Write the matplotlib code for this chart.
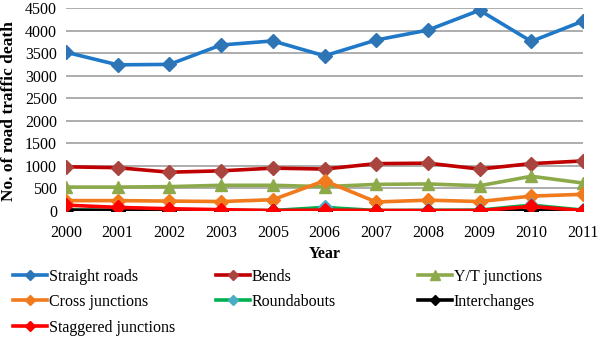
import matplotlib
matplotlib.use('Agg')
import matplotlib.pyplot as pl
from matplotlib.lines import Line2D
import numpy as np

years = ['2000', '2001', '2002', '2003', '2005', '2006', '2007', '2008', '2009', '2010', '2011']

straight = [3520, 3240, 3250, 3680, 3770, 3440, 3790, 4010, 4450, 3760, 4210]
bends = [980, 960, 860, 890, 950, 930, 1050, 1060, 930, 1050, 1110]
yt_junctions = [530, 530, 540, 570, 570, 540, 590, 600, 560, 770, 620]
cross = [230, 230, 220, 210, 250, 670, 200, 240, 210, 330, 370]
roundabouts = [20, 15, 10, 10, 10, 80, 10, 15, 20, 130, 20]
interchanges = [20, 10, 5, 5, 5, 5, 5, 5, 5, 5, 5]
staggered = [130, 80, 50, 30, 10, 20, 10, 10, 10, 100, 10]

# label, values, line colour, marker colour, marker
series = [
    ('Straight roads', straight, '#1F78C8', '#2E75B6', 'D'),
    ('Bends', bends, '#C00000', '#A9443F', 'D'),
    ('Y/T junctions', yt_junctions, '#8DAA4B', '#8DAA4B', '^'),
    ('Cross junctions', cross, '#F07A1C', '#F07A1C', 'D'),
    ('Roundabouts', roundabouts, '#00B050', '#4BACC6', 'D'),
    ('Interchanges', interchanges, '#000000', '#000000', 'D'),
    ('Staggered junctions', staggered, '#FF0000', '#FF0000', 'D'),
]

pl.rcParams['font.family'] = ['Liberation Serif', 'DejaVu Serif']

W, H = 602, 338
fig = pl.figure(figsize=(W / 100, H / 100), dpi=100)
ax = fig.add_axes([66 / W, 1 - 211 / H, (583 - 66) / W, (211 - 8) / H])

x = np.arange(len(years))
for label, vals, lc, mc, mk in series:
    ms = 7 if mk == 'D' else 8.5
    ax.plot(x, vals, color=lc, lw=2.6, marker=mk, markersize=ms,
            markerfacecolor=mc, markeredgecolor=mc, label=label, zorder=3)

ax.set_xlim(0, len(years) - 1)
ax.set_ylim(0, 4500)
ax.set_yticks(np.arange(0, 4501, 500))
ax.set_xticks(x)
ax.set_xticklabels(years)
ax.tick_params(axis='both', length=0, labelsize=11.5)
ax.tick_params(axis='x', pad=10)
ax.tick_params(axis='y', pad=6.5)
ax.grid(True, axis='y', color='#A0A0A0', lw=1.2, zorder=0)
for s in ax.spines.values():
    s.set_visible(False)

ax.set_xlabel('Year', fontsize=11.5, fontweight='bold', labelpad=4)
fig.text(9 / W, 1 - 111 / H, 'No. of road traffic death', rotation=90,
         ha='center', va='center', fontsize=12.5, fontweight='bold')

# legend laid out row by row, one small legend per entry
col_x = [13, 216, 418]
row_y = [277, 302, 328]
for i, (label, vals, lc, mc, mk) in enumerate(series):
    r, c = divmod(i, 3)
    h = Line2D([], [], color=lc, lw=2.6, marker=mk, markersize=5.5 if mk == 'D' else 6.5,
               markerfacecolor=mc, markeredgecolor=mc)
    fig.legend([h], [label], loc='center left',
               bbox_to_anchor=(col_x[c] / W, 1 - row_y[r] / H),
               frameon=False, fontsize=11.5, handlelength=2.1, handletextpad=0.15,
               borderpad=0.0, borderaxespad=0.0)

fig.savefig('out.png', dpi=100)
